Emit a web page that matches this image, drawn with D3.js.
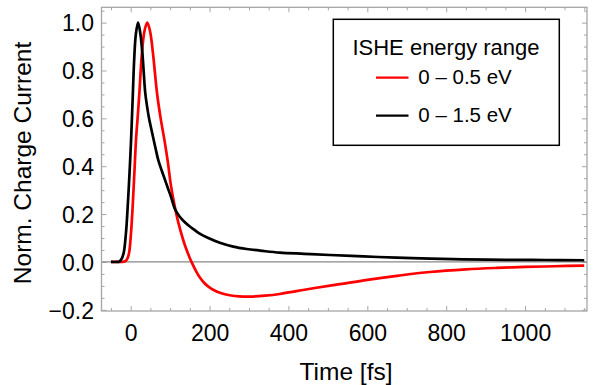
<!DOCTYPE html>
<html>
<head>
<meta charset="utf-8">
<script src="https://cdn.jsdelivr.net/npm/d3@7"></script>
<style>
html,body{margin:0;padding:0;background:#fff;}
svg{display:block;font-family:"Liberation Sans",Arial,Helvetica,sans-serif;}
</style>
</head>
<body>
<svg id="chart" width="598" height="385"></svg>
<script>
// ---- data ----
const timeRed = [-50, -35, -25, -18, -12, -7, -3.5, 0.8, 5, 9.3, 13.5, 17.5, 22, 28.5, 35, 42, 49, 56.5, 66.8, 76, 85.5, 94, 102, 111, 121, 132, 140, 149, 156, 166, 175, 186, 197, 209, 230, 251, 275, 302, 340, 378, 420, 463, 530, 600, 680, 759, 850, 928, 1000, 1075, 1150];
const currentRed = [0, 0, 0, 0.001, 0.005, 0.02, 0.043, 0.12, 0.231, 0.37, 0.51, 0.6, 0.705, 0.872, 0.965, 1.0, 0.965, 0.872, 0.705, 0.6, 0.51, 0.42, 0.32, 0.238, 0.163, 0.098, 0.058, 0.02, -0.006, -0.039, -0.064, -0.087, -0.103, -0.116, -0.131, -0.139, -0.144, -0.145, -0.141, -0.134, -0.122, -0.11, -0.093, -0.075, -0.057, -0.042, -0.031, -0.025, -0.021, -0.018, -0.015];

const timeBlack = [-50, -35, -29, -24, -18, -12, -7.6, -3, 1, 5, 9, 13, 18.6, 24, 29.7, 37, 42, 46.5, 55, 63, 70, 78, 85.5, 94, 102, 112.5, 124, 136, 150, 161.6, 175, 194, 226, 260, 294, 335, 378, 440, 505, 590, 674, 760, 843, 950, 1050, 1150];
const currentBlack = [0, 0, 0.001, 0.01, 0.036, 0.12, 0.23, 0.37, 0.51, 0.68, 0.85, 0.95, 1.0, 0.96, 0.872, 0.705, 0.645, 0.6, 0.535, 0.475, 0.425, 0.385, 0.35, 0.31, 0.273, 0.22, 0.19, 0.168, 0.148, 0.134, 0.118, 0.102, 0.08, 0.064, 0.054, 0.046, 0.039, 0.034, 0.029, 0.023, 0.018, 0.014, 0.011, 0.009, 0.008, 0.007];

const xMajorTicks = [0, 200, 400, 600, 800, 1000];
const yMajorTicks = [-0.2, 0.0, 0.2, 0.4, 0.6, 0.8, 1.0];
const seriesNames = ["0 \u2013 0.5 eV", "0 \u2013 1.5 eV"];
const seriesColors = ["#ff0000", "#000000"];
const legendTitle = "ISHE energy range";
const xLabel = "Time [fs]";
const yLabel = "Norm. Charge Current";

// ---- layout ----
const L = 101.5, R = 587, T = 7.3, B = 311;
const svg = d3.select("#chart");
const x = d3.scaleLinear().domain([-74, 1157]).range([L, R]);
const y = d3.scaleLinear().domain([-0.205, 1.064]).range([B, T]);

const xMinor = d3.range(-50, 1151, 50).filter(v => !xMajorTicks.includes(v));
const yMinor = d3.range(-4, 22).map(i => +(i * 0.05).toFixed(2)).filter(v => !yMajorTicks.some(m => Math.abs(m - v) < 1e-9));

const frameColor = "#a6a6a6";
const tickFmt = d3.format(".1f");
const fmtY = v => tickFmt(v).replace("-", "\u2212");

function styleAxis(g) {
  g.select(".domain").remove();
  g.selectAll(".tick line").attr("stroke", frameColor).attr("stroke-width", 1);
}
const fs = 23;
const ff = "Liberation Sans, Arial, sans-serif";

// bottom
svg.append("g").attr("transform", `translate(0,${B})`)
  .call(d3.axisBottom(x).tickValues(xMajorTicks).tickSize(-5).tickPadding(0).tickFormat(d3.format("d")))
  .call(styleAxis)
  .call(g => g.selectAll(".tick text").attr("y", 29.5).attr("dy", null).attr("font-size", fs).attr("fill", "#000").attr("font-family", ff));
svg.append("g").attr("transform", `translate(0,${B})`)
  .call(d3.axisBottom(x).tickValues(xMinor).tickSize(-3).tickFormat(""))
  .call(styleAxis);
// top
svg.append("g").attr("transform", `translate(0,${T})`)
  .call(d3.axisTop(x).tickValues(xMajorTicks).tickSize(-5).tickFormat(""))
  .call(styleAxis);
svg.append("g").attr("transform", `translate(0,${T})`)
  .call(d3.axisTop(x).tickValues(xMinor).tickSize(-3).tickFormat(""))
  .call(styleAxis);
// left
svg.append("g").attr("transform", `translate(${L},0)`)
  .call(d3.axisLeft(y).tickValues(yMajorTicks).tickSize(-5).tickFormat(fmtY))
  .call(styleAxis)
  .call(g => g.selectAll(".tick text").attr("x", -7.5).attr("dy", "0.36em").attr("font-size", fs).attr("fill", "#000").attr("font-family", ff));
svg.append("g").attr("transform", `translate(${L},0)`)
  .call(d3.axisLeft(y).tickValues(yMinor).tickSize(-3).tickFormat(""))
  .call(styleAxis);
// right
svg.append("g").attr("transform", `translate(${R},0)`)
  .call(d3.axisRight(y).tickValues(yMajorTicks).tickSize(-5).tickFormat(""))
  .call(styleAxis);
svg.append("g").attr("transform", `translate(${R},0)`)
  .call(d3.axisRight(y).tickValues(yMinor).tickSize(-3).tickFormat(""))
  .call(styleAxis);

// zero line
svg.append("line").attr("x1", L).attr("x2", R).attr("y1", y(0)).attr("y2", y(0))
  .attr("stroke", "#888").attr("stroke-width", 1.2);

// curves
const line = d3.line().x(d => x(d[0])).y(d => y(d[1])).curve(d3.curveCatmullRom.alpha(0.5));
const seriesData = [
  d3.zip(timeRed, currentRed),
  d3.zip(timeBlack, currentBlack)
];
svg.append("clipPath").attr("id", "clip").append("rect")
  .attr("x", L).attr("y", T).attr("width", R - L).attr("height", B - T);
[0, 1].forEach(i => {
  svg.append("path").datum(seriesData[i])
    .attr("d", line).attr("fill", "none")
    .attr("stroke", seriesColors[i]).attr("stroke-width", 2.7)
    .attr("stroke-linejoin", "round").attr("clip-path", "url(#clip)");
});

// frame
svg.append("rect").attr("x", L).attr("y", T).attr("width", R - L).attr("height", B - T)
  .attr("fill", "none").attr("stroke", frameColor).attr("stroke-width", 1.3);

// axis labels
svg.append("text").attr("x", 346).attr("y", 380).attr("text-anchor", "middle")
  .attr("font-size", 24.5).attr("fill", "#000").text(xLabel);
svg.append("text").attr("transform", "translate(30.5,163) rotate(-90)").attr("text-anchor", "middle")
  .attr("font-size", 24.5).attr("fill", "#000").text(yLabel);

// legend
const lg = svg.append("g");
lg.append("rect").attr("x", 333.3).attr("y", 19.3).attr("width", 226).attr("height", 126)
  .attr("fill", "#fff").attr("stroke", "#000").attr("stroke-width", 1.5);
lg.append("text").attr("x", 446).attr("y", 55).attr("text-anchor", "middle")
  .attr("font-size", 22).attr("fill", "#000").text(legendTitle);
const rowY = [77.7, 115.7];
seriesNames.forEach((name, i) => {
  lg.append("line").attr("x1", 376).attr("x2", 408.5).attr("y1", rowY[i]).attr("y2", rowY[i])
    .attr("stroke", seriesColors[i]).attr("stroke-width", 2.2);
  lg.append("text").attr("x", 418.3).attr("y", rowY[i] + 6.5)
    .attr("font-size", 20.5).attr("fill", "#000").text(name);
});
</script>
</body>
</html>
